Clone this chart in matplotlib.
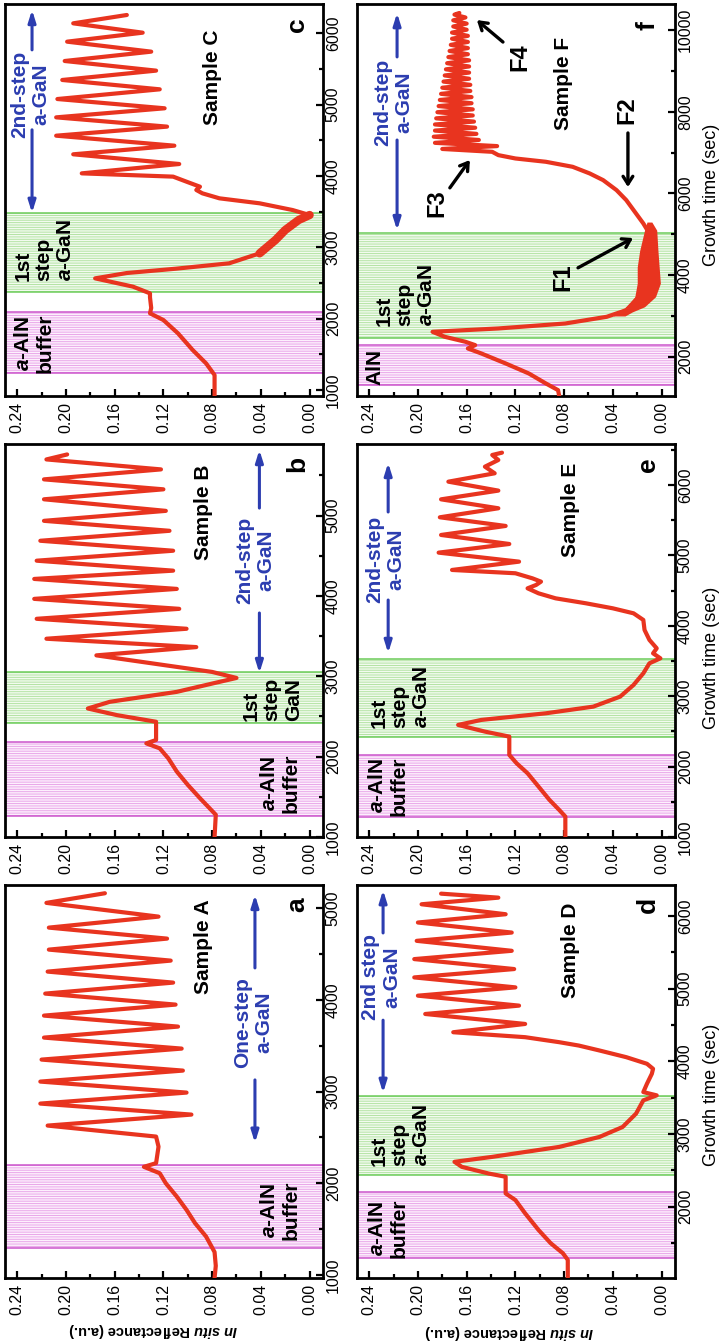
import matplotlib
matplotlib.use("Agg")
import matplotlib.pyplot as plt
import numpy as np

plt.rcParams['font.family'] = ['Liberation Sans', 'DejaVu Sans']
plt.rcParams['mathtext.fontset'] = 'custom'
plt.rcParams['mathtext.it'] = 'Liberation Sans:italic:bold'
plt.rcParams['mathtext.rm'] = 'Liberation Sans:bold'
plt.rcParams['mathtext.bf'] = 'Liberation Sans:bold'
plt.rcParams['hatch.linewidth'] = 0.7

RED = '#e8341f'
BLUE = '#2c3db0'
PINK_LINE = '#cc55cc'
PINK_HATCH = '#e9a6e9'
GREEN_LINE = '#6ccc5a'
GREEN_HATCH = '#b3e3a4'

# ---- reflectance traces: growth time (s) / reflectance (a.u.) ----
t_a = [967, 1100, 1250, 1420, 1565, 1710, 1855, 2000, 2110, 2180, 2220, 2400, 2510,
       2630, 2750, 2870, 2990, 3110, 3230, 3350, 3470, 3590, 3710, 3830, 3950, 4070,
       4190, 4310, 4430, 4550, 4670, 4790, 4910, 5060, 5165]
r_a = [0.078, 0.077, 0.078, 0.085, 0.094, 0.101, 0.109, 0.118, 0.123, 0.136, 0.126, 0.124, 0.126,
       0.215, 0.097, 0.221, 0.101, 0.221, 0.104, 0.220, 0.105, 0.218, 0.108, 0.218, 0.110, 0.217,
       0.112, 0.215, 0.114, 0.214, 0.117, 0.214, 0.124, 0.216, 0.168]

t_b = [1000, 1277, 1483, 1649, 1814, 1979, 2103, 2165, 2207, 2351, 2434, 2516, 2599, 2682,
       2806, 2909, 2979, 3054, 3136, 3260, 3363,
       3467, 3591, 3715, 3839, 3963, 4087, 4211, 4314, 4438, 4562, 4686, 4810, 4934, 5058,
       5202, 5326, 5450, 5574, 5698, 5760]
r_b = [0.078, 0.077, 0.090, 0.100, 0.109, 0.116, 0.123, 0.134, 0.126, 0.126, 0.126, 0.158, 0.182, 0.164,
       0.109, 0.080, 0.060, 0.080, 0.118, 0.175, 0.093,
       0.216, 0.101, 0.224, 0.107, 0.226, 0.109, 0.226, 0.112, 0.224, 0.112, 0.221, 0.115, 0.218, 0.118,
       0.218, 0.120, 0.218, 0.122, 0.216, 0.199]

t_c = [916, 1093, 1210, 1374, 1561, 1794, 1981, 2075, 2150, 2300, 2355, 2449, 2565, 2640, 2700,
       2776, 2916, 3103, 3243, 3383, 3453, 3523, 3617, 3687, 3757, 3804, 3850, 3920, 3991,
       4037, 4168, 4304, 4425, 4565, 4692, 4822, 4949, 5079, 5215, 5346, 5477, 5612, 5743,
       5883, 6009, 6140, 6257]
r_c = [0.078, 0.078, 0.078, 0.085, 0.096, 0.108, 0.120, 0.131, 0.130, 0.131, 0.131, 0.145, 0.176, 0.150, 0.110,
       0.066, 0.041, 0.028, 0.020, 0.009, 0.000, 0.014, 0.041, 0.074, 0.088, 0.093, 0.090, 0.101, 0.112,
       0.187, 0.107, 0.194, 0.111, 0.208, 0.117, 0.208, 0.119, 0.207, 0.123, 0.203, 0.126, 0.201, 0.130,
       0.199, 0.137, 0.194, 0.150]

t_d = [1022, 1269, 1360, 1498, 1680, 1909, 2092, 2183, 2300, 2412, 2457, 2549, 2618, 2686, 2823,
       2960, 3097, 3280, 3463, 3532, 3577, 3692, 3829, 3897, 3966, 4057, 4149, 4217, 4263, 4332,
       4400, 4514, 4651, 4766, 4903, 5017, 5154, 5269, 5406, 5520, 5657, 5771, 5909, 6023,
       6160, 6251, 6306]
r_d = [0.077, 0.077, 0.081, 0.091, 0.101, 0.112, 0.120, 0.128, 0.128, 0.128, 0.142, 0.164, 0.170, 0.139, 0.084,
       0.051, 0.032, 0.021, 0.015, 0.004, 0.015, 0.012, 0.008, 0.007, 0.012, 0.029, 0.051, 0.068, 0.084, 0.112,
       0.171, 0.112, 0.194, 0.117, 0.200, 0.120, 0.203, 0.121, 0.203, 0.123, 0.201, 0.123, 0.200, 0.128,
       0.197, 0.134, 0.181]

t_e = [1001, 1290, 1384, 1526, 1716, 1905, 2047, 2166, 2300, 2426, 2497, 2592, 2663, 2757, 2852,
       2994, 3160, 3325, 3467, 3538, 3609, 3680, 3799, 3941, 4083, 4177, 4248, 4319, 4390, 4461,
       4532, 4580, 4627, 4674, 4746,
       4793, 4911, 5039, 5162, 5290, 5418, 5541, 5669, 5796, 5920, 6047, 6166, 6260, 6355, 6426, 6459]
r_e = [0.079, 0.079, 0.084, 0.092, 0.101, 0.110, 0.119, 0.125, 0.125, 0.125, 0.145, 0.167, 0.148, 0.095, 0.056,
       0.034, 0.023, 0.015, 0.010, 0.001, 0.007, 0.004, 0.010, 0.014, 0.015, 0.023, 0.040, 0.062, 0.087, 0.101,
       0.110, 0.103, 0.099, 0.106, 0.120,
       0.172, 0.117, 0.183, 0.125, 0.181, 0.128, 0.182, 0.134, 0.181, 0.134, 0.175, 0.137, 0.145, 0.134, 0.139, 0.131]

t_f = [1037, 1184, 1347, 1592, 1837, 2082, 2204, 2286, 2368, 2490, 2612, 2694, 2816, 2980, 3143,
       3388, 3714, 3959, 4367, 4776, 5020, 5265, 5592, 5837, 6082, 6327, 6490, 6653, 6776, 6857, 6939,
       7020, 7090, 7160, 7240, 7310, 7390, 7460, 7540, 7610, 7690,
       7760, 7840, 7910, 7990, 8060, 8140, 8210, 8290, 8360, 8440,
       8510, 8590, 8660, 8740, 8810, 8890, 8960, 9040, 9110, 9190,
       9260, 9340, 9410, 9490, 9560, 9640, 9710, 9790, 9860, 9940,
       10010, 10090, 10160, 10240, 10310, 10380, 10420]
r_f = [0.084, 0.085, 0.095, 0.109, 0.128, 0.148, 0.159, 0.153, 0.161, 0.178, 0.188, 0.134, 0.079, 0.045, 0.029,
       0.021, 0.012, 0.010, 0.010, 0.008, 0.010, 0.015, 0.023, 0.029, 0.037, 0.048, 0.059, 0.073, 0.095, 0.120, 0.134,
       0.139, 0.180, 0.135, 0.186, 0.150, 0.187, 0.152, 0.186, 0.153, 0.186,
       0.154, 0.185, 0.155, 0.184, 0.155, 0.183, 0.156, 0.182, 0.156, 0.181,
       0.157, 0.180, 0.157, 0.179, 0.158, 0.178, 0.158, 0.177, 0.158, 0.176,
       0.158, 0.175, 0.159, 0.174, 0.159, 0.173, 0.159, 0.172, 0.159, 0.172,
       0.160, 0.171, 0.160, 0.171, 0.161, 0.170, 0.166]

# broad noisy band of sample F around the first-step minimum
band_t_f = [3000, 3100, 3225, 3470, 3800, 4200, 4600, 5100, 5300]
band_hi_f = [0.040, 0.035, 0.029, 0.022, 0.020, 0.020, 0.018, 0.014, 0.012]
band_lo_f = [0.030, 0.024, 0.014, 0.005, 0.001, 0.002, 0.003, 0.004, 0.008]

# growth-stage windows (s)
buffer_spans = {'a': (1291, 2200), 'b': (1256, 2186), 'c': (1234, 2098),
                'd': (1293, 2207), 'e': (1284, 2161), 'f': (1306, 2286)}
step1_spans = {'b': (2413, 3054), 'c': (2378, 3477), 'd': (2435, 3518),
               'e': (2421, 3526), 'f': (2449, 5020)}

time_limits = {'a': (967, 5255), 'b': (1000, 5890), 'c': (916, 6411),
               'd': (1020, 6425), 'e': (1000, 6582), 'f': (1040, 10640)}
time_step = {'a': 1000, 'b': 1000, 'c': 1000, 'd': 1000, 'e': 1000, 'f': 2000}
refl_ticks = [0.00, 0.04, 0.08, 0.12, 0.16, 0.20, 0.24]

traces = {'a': (t_a, r_a), 'b': (t_b, r_b), 'c': (t_c, r_c),
          'd': (t_d, r_d), 'e': (t_e, r_e), 'f': (t_f, r_f)}

W, H = 720, 1341
fig = plt.figure(figsize=(W / 100, H / 100), dpi=100)

col_x = [5, 357]
row_y = {'top': (4, 396), 'mid': (444, 837), 'bot': (885, 1278)}
layout = {'a': (0, 'bot'), 'b': (0, 'mid'), 'c': (0, 'top'),
          'd': (1, 'bot'), 'e': (1, 'mid'), 'f': (1, 'top')}

axes = {}
for key, (col, row) in layout.items():
    y0, y1 = row_y[row]
    ax = fig.add_axes([col_x[col] / W, 1 - y1 / H, 318 / W, (y1 - y0) / H])
    axes[key] = ax

    t, r = traces[key]
    lo, hi = time_limits[key]
    step = time_step[key]

    # hatched stage windows
    b0, b1 = buffer_spans[key]
    ax.axhspan(b0, b1, facecolor='#fdf0fd', edgecolor=PINK_HATCH, lw=0, hatch='-------', zorder=1)
    for v in (b0, b1):
        ax.axhline(v, color=PINK_LINE, lw=1.1, zorder=1.5)
    if key in step1_spans:
        s0, s1 = step1_spans[key]
        ax.axhspan(s0, s1, facecolor='#f2fbef', edgecolor=GREEN_HATCH, lw=0, hatch='-------', zorder=1)
        for v in (s0, s1):
            ax.axhline(v, color=GREEN_LINE, lw=1.1, zorder=1.5)

    ax.plot(r, t, color=RED, lw=3.0, solid_joinstyle='round', solid_capstyle='round', zorder=3)

    ax.set_xlim(0.25, -0.011)
    ax.set_ylim(lo, hi)

    ax.set_xticks(refl_ticks)
    ax.set_xticklabels([f'{v:.2f}' for v in refl_ticks], rotation=90)
    ax.set_xticks(np.arange(0.0, 0.25, 0.02), minor=True)
    yt = np.arange(step * np.ceil(lo / step), hi, step)
    ax.set_yticks(yt)
    ax.set_yticks(np.arange(step / 2 * np.ceil(lo / (step / 2)), hi, step / 2), minor=True)
    ax.yaxis.tick_right()
    ax.set_yticklabels([f'{int(v)}' for v in yt], rotation=90, va='center')

    ax.tick_params(axis='x', which='both', direction='in', bottom=True, top=False,
                   labelsize=11.5, width=1.6, pad=4)
    ax.tick_params(axis='y', which='both', direction='in', left=False, right=True,
                   labelleft=False, labelright=True, labelsize=11.5, width=1.6, pad=2)
    ax.tick_params(which='major', length=5)
    ax.tick_params(which='minor', length=3)
    for sp in ax.spines.values():
        sp.set_linewidth(2.0)

# thick noisy stretches
mask_c = (np.array(t_c) >= 2800) & (np.array(t_c) <= 3460)
axes['c'].plot(np.array(r_c)[mask_c], np.array(t_c)[mask_c], color=RED, lw=6, zorder=3,
               solid_capstyle='round')
axes['f'].fill_betweenx(band_t_f, band_lo_f, band_hi_f, color=RED, lw=0, zorder=3)


def label(ax, x, y, s, size=15, color='black', align='center', weight='bold'):
    ax.text(x, y, s, transform=ax.transAxes, rotation=90, ha='center', va='center',
            fontsize=size, fontweight=weight, color=color, multialignment=align,
            linespacing=1.15, zorder=5)


def stage_arrows(ax, x, lower, upper):
    for tail, head in (lower, upper):
        ax.annotate('', xy=(x, head), xytext=(x, tail), xycoords='axes fraction',
                    arrowprops=dict(arrowstyle='-|>,head_length=0.7,head_width=0.22',
                                    color=BLUE, lw=2.2, shrinkA=0, shrinkB=0), zorder=5)


def pointer(ax, xy_text, xy_head):
    ax.annotate('', xy=xy_head, xytext=xy_text, xycoords='axes fraction',
                arrowprops=dict(arrowstyle='->,head_length=0.55,head_width=0.35',
                                color='black', lw=2.4, shrinkA=0, shrinkB=0), zorder=5)


AlN = '$a$-AlN\nbuffer'
aGaN = '1st\nstep\n$a$-GaN'

# (a)
ax = axes['a']
label(ax, 0.623, 0.842, 'Sample A')
label(ax, 0.918, 0.949, 'a', size=19)
label(ax, 0.782, 0.651, 'One-step\na-GaN', color=BLUE)
stage_arrows(ax, 0.786, (0.504, 0.344), (0.789, 0.975))
label(ax, 0.865, 0.173, AlN)

# (b)
ax = axes['b']
label(ax, 0.623, 0.827, 'Sample B')
label(ax, 0.918, 0.949, 'b', size=19)
label(ax, 0.786, 0.705, '2nd-step\na-GaN', color=BLUE)
stage_arrows(ax, 0.800, (0.570, 0.417), (0.837, 0.985))
label(ax, 0.840, 0.351, '1st\nstep\nGaN', align='left')
label(ax, 0.865, 0.137, AlN)

# (c)
ax = axes['c']
label(ax, 0.654, 0.814, 'Sample C')
label(ax, 0.918, 0.946, 'c', size=19)
label(ax, 0.079, 0.770, '2nd-step\na-GaN', color=BLUE)
stage_arrows(ax, 0.085, (0.679, 0.467), (0.883, 0.985))
label(ax, 0.123, 0.372, aGaN, align='left')
label(ax, 0.092, 0.135, AlN)

# (d)
ax = axes['d']
label(ax, 0.670, 0.835, 'Sample D')
label(ax, 0.915, 0.949, 'd', size=19)
label(ax, 0.075, 0.766, '2nd step\na-GaN', color=BLUE)
stage_arrows(ax, 0.082, (0.656, 0.471), (0.878, 0.987))
label(ax, 0.135, 0.364, aGaN, align='left')
label(ax, 0.098, 0.127, AlN)

# (e)
ax = axes['e']
label(ax, 0.670, 0.832, 'Sample E')
label(ax, 0.915, 0.947, 'e', size=19)
label(ax, 0.088, 0.707, '2nd-step\na-GaN', color=BLUE)
stage_arrows(ax, 0.098, (0.603, 0.468), (0.827, 0.952))
label(ax, 0.135, 0.356, aGaN, align='left')
label(ax, 0.098, 0.130, AlN)

# (f)
ax = axes['f']
label(ax, 0.648, 0.798, 'Sample F')
label(ax, 0.912, 0.946, 'f', size=19)
label(ax, 0.113, 0.750, '2nd-step\na-GaN', color=BLUE)
stage_arrows(ax, 0.126, (0.653, 0.423), (0.865, 0.977))
label(ax, 0.151, 0.258, aGaN, align='left')
label(ax, 0.057, 0.074, 'AlN')
label(ax, 0.648, 0.304, 'F1', size=17)
pointer(ax, (0.695, 0.327), (0.868, 0.403))
label(ax, 0.849, 0.730, 'F2', size=17)
pointer(ax, (0.852, 0.671), (0.852, 0.533))
label(ax, 0.252, 0.492, 'F3', size=17)
pointer(ax, (0.292, 0.531), (0.355, 0.602))
label(ax, 0.513, 0.865, 'F4', size=17)
pointer(ax, (0.459, 0.903), (0.377, 0.959))

# shared axis titles
for fx, fy in ((153 / W, 1 - 1330 / H), (509 / W, 1 - 1332 / H)):
    fig.text(fx, fy, r'$In\ situ$ Reflectance (a.u.)', rotation=180, ha='center', va='center',
             fontsize=10.5, fontweight='bold')
for fy in (1 - 1095 / H, 1 - 658 / H, 1 - 195 / H):
    fig.text(711 / W, fy, 'Growth time (sec)', rotation=90, ha='center', va='center', fontsize=13)

fig.savefig('out.png', dpi=100)
